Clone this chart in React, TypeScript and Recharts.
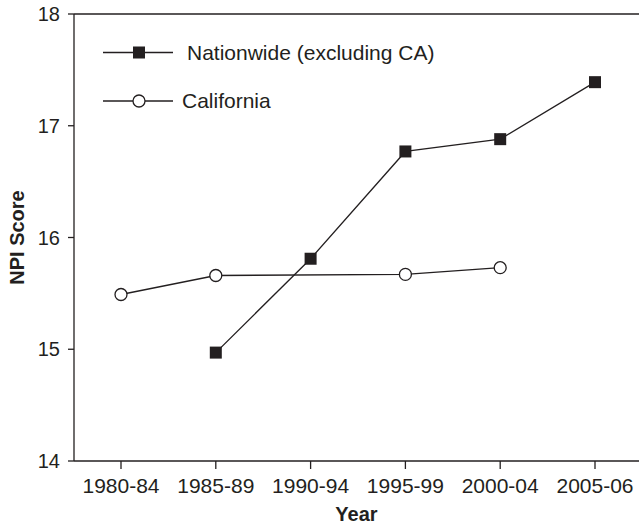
import React from "react";
import { LineChart, Line, XAxis, YAxis, ReferenceLine } from "recharts";

const categories = ["1980-84", "1985-89", "1990-94", "1995-99", "2000-04", "2005-06"];
const nationwide: (number | null)[] = [null, 14.97, 15.81, 16.77, 16.88, 17.39];
const california: (number | null)[] = [15.49, 15.66, null, 15.67, 15.73, null];
const yTicks = [14, 15, 16, 17, 18];
const seriesNames = ["Nationwide (excluding CA)", "California"];

const data = categories.map((c, i) => ({
  year: c,
  nationwide: nationwide[i],
  california: california[i],
}));

const INK = "#231f20";
const FONT = "'Liberation Sans', Arial, Helvetica, sans-serif";

const SquareDot = (props: any) => {
  const { cx, cy, index } = props;
  if (cx == null || cy == null || props.value == null) return <g key={`s${index}`} />;
  return <rect key={`s${index}`} x={cx - 6} y={cy - 6} width={12} height={12} fill={INK} />;
};

const CircleDot = (props: any) => {
  const { cx, cy, index } = props;
  if (cx == null || cy == null || props.value == null) return <g key={`c${index}`} />;
  return <circle key={`c${index}`} cx={cx} cy={cy} r={6} fill="#fff" stroke={INK} strokeWidth={1.3} />;
};

const LegendOverlay = () => (
  <svg
    width={639}
    height={526}
    style={{ position: "absolute", left: 0, top: 0, pointerEvents: "none", fontFamily: FONT }}
  >
    <line x1={103} y1={52.5} x2={173} y2={52.5} stroke={INK} strokeWidth={1.3} />
    <rect x={133} y={46.5} width={12} height={12} fill={INK} />
    <text x={187} y={52.5} dy="0.355em" fontSize={21} fill={INK}>{seriesNames[0]}</text>
    <line x1={103} y1={101} x2={173} y2={101} stroke={INK} strokeWidth={1.3} />
    <circle cx={139} cy={101} r={6} fill="#fff" stroke={INK} strokeWidth={1.3} />
    <text x={182} y={101} dy="0.355em" fontSize={21} fill={INK}>{seriesNames[1]}</text>
  </svg>
);

export default function App() {
  return (
    <div style={{ position: "absolute", left: 0, top: 0, width: 639, height: 526, background: "#fff" }}>
      <LineChart
        width={639}
        height={526}
        data={data}
        margin={{ top: 14, right: 0, bottom: 0, left: 0 }}
        style={{ fontFamily: FONT }}
      >
        <XAxis
          dataKey="year"
          padding={{ left: 47, right: 44 }}
          stroke={INK}
          strokeWidth={1.3}
          tick={{ fill: INK, fontSize: 21 }}
          tickSize={8}
          tickMargin={9}
          height={65}
          label={{ value: "Year", position: "insideBottom", offset: 5, fill: INK, fontSize: 20, fontWeight: "bold" }}
        />
        <YAxis
          domain={[14, 18]}
          ticks={yTicks}
          width={74}
          stroke={INK}
          strokeWidth={1.3}
          tick={{ fill: INK, fontSize: 20 }}
          tickSize={6}
          tickMargin={8}
          label={{ value: "NPI Score", angle: -90, position: "insideLeft", offset: 17, fill: INK, fontSize: 20, fontWeight: "bold", style: { textAnchor: "middle" } }}
        />
        <ReferenceLine y={18} stroke={INK} strokeWidth={1.3} />
        <Line
          dataKey="nationwide"
          name={seriesNames[0]}
          stroke={INK}
          strokeWidth={1.3}
          dot={<SquareDot />}
          activeDot={false}
          isAnimationActive={false}
        />
        <Line
          dataKey="california"
          name={seriesNames[1]}
          stroke={INK}
          strokeWidth={1.3}
          connectNulls
          dot={<CircleDot />}
          activeDot={false}
          isAnimationActive={false}
        />
      </LineChart>
      <LegendOverlay />
    </div>
  );
}
